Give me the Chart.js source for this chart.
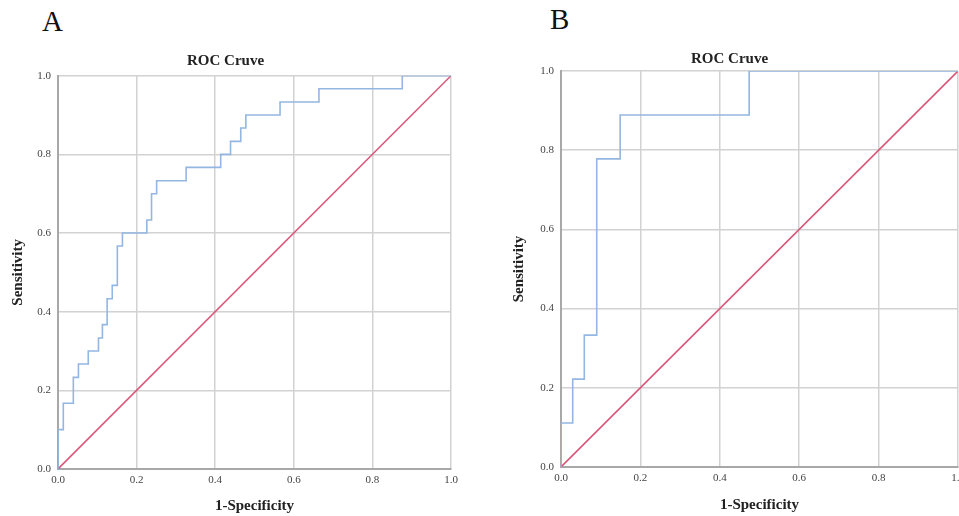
<!DOCTYPE html>
<html>
<head>
<meta charset="utf-8">
<script src="https://cdn.jsdelivr.net/npm/chart.js@4/dist/chart.umd.min.js"></script>
<style>
  html, body { margin: 0; padding: 0; background: #fff; overflow: hidden; width: 959px; height: 516px; }
  .panel { position: absolute; top: 0; }
  .letter { position: absolute; font-family: "Liberation Serif", serif; font-size: 29px; line-height: 29px; color: #111; }
</style>
</head>
<body>
<div class="letter" style="left:42px; top:7px;">A</div>
<div class="letter" style="left:550px; top:5px;">B</div>
<canvas id="chartA" class="panel" width="470" height="516" style="left:0px"></canvas>
<canvas id="chartB" class="panel" width="470" height="516" style="left:501px"></canvas>
<script>
// panel A: ROC points (1-specificity, sensitivity)
const fprA = [0, 0, 0.0135, 0.039, 0.052, 0.077, 0.103, 0.113, 0.125, 0.138, 0.151, 0.164, 0.226, 0.238, 0.251, 0.326, 0.414, 0.439, 0.465, 0.478, 0.565, 0.664, 0.876, 1];
const tprA = [0, 0.1, 0.167, 0.233, 0.267, 0.3, 0.333, 0.367, 0.433, 0.467, 0.567, 0.6, 0.633, 0.7, 0.733, 0.767, 0.8, 0.833, 0.867, 0.9, 0.933, 0.967, 1, 1];

// panel B
const fprB = [0, 0, 0.0295, 0.0587, 0.09, 0.149, 0.474, 1];
const tprB = [0, 0.111, 0.222, 0.333, 0.778, 0.889, 1, 1];

// reference line
const refX = [0, 1];
const refY = [0, 1];

const tickValues = [0, 0.2, 0.4, 0.6, 0.8, 1.0];
const titleText = "ROC Cruve";
const xTitle = "1-Specificity";
const yTitle = "Sensitivity";

const serif = "'Liberation Serif', 'Times New Roman', serif";

function toPoints(xs, ys) {
  return xs.map((x, i) => ({ x: x, y: ys[i] }));
}

function makeChart(id, fpr, tpr, lay) {
  const ctx = document.getElementById(id).getContext("2d");
  return new Chart(ctx, {
    type: 'scatter',
    data: {
      datasets: [{
        data: toPoints(fpr, tpr),
        showLine: true,
        stepped: 'before',
        borderColor: '#93b6e2',
        borderWidth: 1.6,
        pointRadius: 0,
        fill: false
      }, {
        data: toPoints(refX, refY),
        showLine: true,
        borderColor: '#d9587a',
        borderWidth: 1.6,
        pointRadius: 0,
        fill: false
      }]
    },
    options: {
      responsive: false,
      animation: false,
      devicePixelRatio: 1,
      layout: { padding: { top: 0, left: 0, bottom: 0, right: lay.right } },
      plugins: {
        legend: { display: false },
        tooltip: { enabled: false },
        title: {
          display: true,
          text: titleText,
          color: '#222',
          font: { family: serif, size: 15, weight: 'bold' },
          padding: { top: lay.titleTop, bottom: lay.titleBottom }
        }
      },
      scales: {
        x: {
          type: 'linear',
          min: 0,
          max: 1,
          afterFit: function (scale) { scale.height = lay.xHeight; },
          afterBuildTicks: function (scale) { scale.ticks = tickValues.map(v => ({ value: v })); },
          ticks: {
            color: '#444',
            font: { family: serif, size: 11 },
            padding: 5,
            maxRotation: 0,
            callback: v => v.toFixed(1)
          },
          grid: { color: '#d2d2d2', lineWidth: 1.5, drawTicks: false },
          border: { color: '#a8a8a8', width: 2 },
          title: {
            display: true,
            text: xTitle,
            color: '#222',
            font: { family: serif, size: 15, weight: 'bold' },
            padding: { top: 0, bottom: lay.xTitleBottom }
          }
        },
        y: {
          type: 'linear',
          min: 0,
          max: 1,
          afterFit: function (scale) { scale.width = lay.yWidth; },
          afterBuildTicks: function (scale) { scale.ticks = tickValues.map(v => ({ value: v })); },
          ticks: {
            color: '#444',
            font: { family: serif, size: 11 },
            padding: 7,
            callback: v => v.toFixed(1)
          },
          grid: { color: '#d2d2d2', lineWidth: 1.5, drawTicks: false },
          border: { color: '#a8a8a8', width: 2 },
          title: {
            display: true,
            text: yTitle,
            color: '#222',
            font: { family: serif, size: 15, weight: 'bold' },
            padding: { top: 9, bottom: 0 }
          }
        }
      }
    }
  });
}

makeChart("chartA", fprA, tprA, { right: 19, titleTop: 52, titleBottom: 5.7, xHeight: 47, xTitleBottom: 1, yWidth: 58 });
makeChart("chartB", fprB, tprB, { right: 13, titleTop: 50, titleBottom: 3, xHeight: 49, xTitleBottom: 2, yWidth: 60 });
</script>
</body>
</html>
